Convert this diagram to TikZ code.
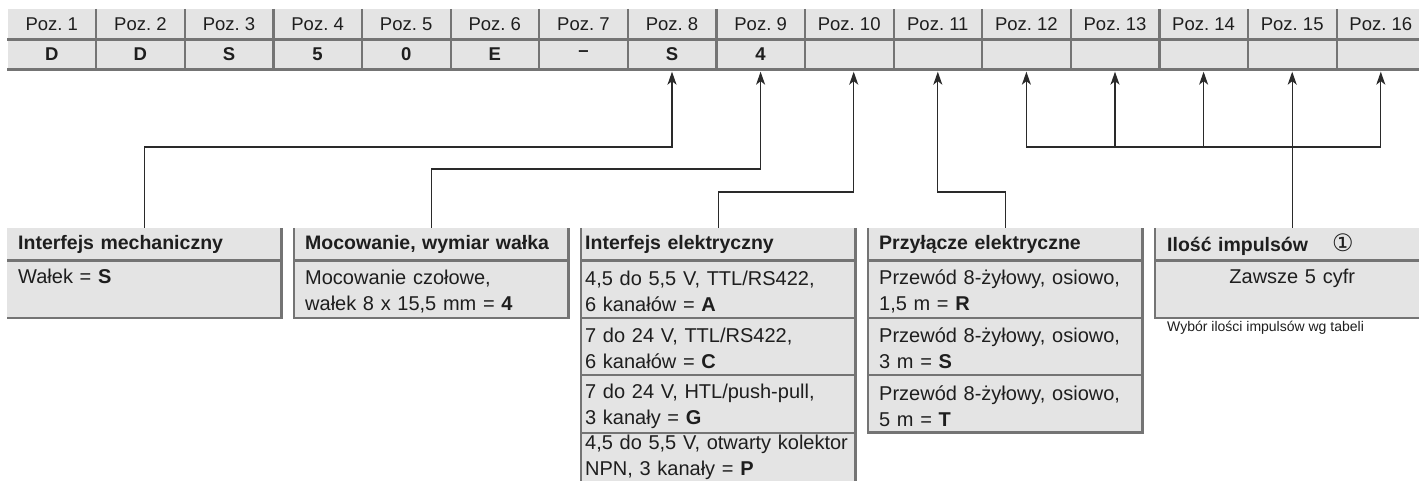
\documentclass[tikz,border=0pt]{standalone}
\usepackage{fontspec}
\setmainfont{Liberation Sans}
\newfontfamily\symfont{DejaVu Sans}
\usetikzlibrary{arrows.meta,calc}
\definecolor{fillg}{HTML}{E4E4E4}
\definecolor{lineg}{HTML}{747474}
\definecolor{conng}{HTML}{2A2A2A}
\definecolor{txt}{HTML}{1E1E1E}
\newcommand\fpoz{\fontsize{18.5}{22}\selectfont}
\newcommand\fval{\fontsize{18.5}{22}\selectfont\bfseries}
\newcommand\fbh{\fontsize{19.5}{23}\selectfont\bfseries}
\newcommand\fbr{\fontsize{20}{26}\selectfont}
\newcommand\fnote{\fontsize{14}{16}\selectfont}
\newcommand\toprule{\rule{0pt}{18.6pt}}
\tikzset{
  poz/.style={minimum width=88.6pt, minimum height=30pt, inner sep=0pt, font=\fpoz, text=txt},
  val/.style={minimum width=88.6pt, minimum height=30pt, inner sep=0pt, font=\fval, text=txt},
  tline/.style={draw=lineg, line width=2.2pt},
  hline/.style={draw=lineg, line width=3pt},
  bhead/.style={fill=fillg, anchor=north west, inner xsep=11pt, inner ysep=0pt, text width=252pt,
     minimum height=32pt, align=left, font=\fbh, text=txt},
  brow/.style={fill=fillg, anchor=north west, inner xsep=11pt, inner ysep=0pt, text width=252pt,
     minimum height=57pt, align=left, font=\fbr, text=txt},
  narrowpad/.style={inner xsep=4pt, text width=266pt},
  bord/.style={draw=lineg, line width=2.6pt},
  sep/.style={draw=lineg, line width=2.2pt},
  conn/.style={draw=conng, line width=1.2pt, -{Stealth[length=13pt,width=9pt,inset=3.5pt]}, shorten >=2.5pt},
  connplain/.style={draw=conng, line width=1.2pt},
  note/.style={anchor=west, inner sep=0pt, font=\fnote, text=txt}
}
\begin{document}
\begin{tikzpicture}[x=1pt,y=-1pt]
\useasboundingbox (0,0) rectangle (1419,481);
\clip (0,0) rectangle (1419,481);

% ---- code table ----
\fill[fillg] (7.5,9) rectangle (1430,69);
\foreach \i in {1,...,16} {
  \node[poz] (p\i) at ({7.5+88.6*(\i-0.5)},24) {Poz.\ \i};
}
\foreach \i/\v in {1/D,2/D,3/S,4/5,5/0,6/E,7/\textendash,8/S,9/4,10/{},11/{},12/{},13/{},14/{},15/{},16/{}} {
  \node[val] (v\i) at ({7.5+88.6*(\i-0.5)},54) {\v};
}
\foreach \i in {1,...,15} {
  \draw[tline] (p\i.north east) -- (v\i.south east);
}
\draw[hline] (p1.south west) -- (p16.south east);
\draw[hline] (v1.south west) -- (v16.south east);

% ---- box 1 ----
\node[bhead] (h1) at (7,228) {Interfejs mechaniczny};
\node[brow] (r11) at (h1.south west) {\toprule Wałek = \textbf{S}\\\phantom{Mg}};
\draw[sep] (h1.south west) -- (h1.south east);
\draw[bord] (r11.south west) -- (r11.south east) -- (h1.north east);

% ---- box 2 ----
\node[bhead] (h2) at (294,228) {Mocowanie, wymiar wałka};
\node[brow] (r21) at (h2.south west) {\toprule Mocowanie czołowe,\\wałek 8 x 15,5 mm = \textbf{4}};
\draw[sep] (h2.south west) -- (h2.south east);
\draw[bord] (h2.north west) -- (r21.south west) -- (r21.south east) -- (h2.north east);

% ---- box 3 ----
\node[bhead,narrowpad] (h3) at (581,228) {Interfejs elektryczny};
\node[brow,narrowpad] (r31) at (h3.south west) {\toprule 4,5 do 5,5 V, TTL/RS422,\\6 kanałów = \textbf{A}};
\node[brow,narrowpad] (r32) at (r31.south west) {\toprule 7 do 24 V, TTL/RS422,\\6 kanałów = \textbf{C}};
\node[brow,narrowpad] (r33) at (r32.south west) {\toprule 7 do 24 V, HTL/push-pull,\\3 kanały = \textbf{G}};
\node[brow,narrowpad,minimum height=50pt] (r34) at (r33.south west) {4,5 do 5,5 V, otwarty kolektor\\NPN, 3 kanały = \textbf{P}};
\draw[sep] (h3.south west) -- (h3.south east);
\draw[sep] (r31.south west) -- (r31.south east);
\draw[sep] (r32.south west) -- (r32.south east);
\draw[sep] (r33.south west) -- (r33.south east);
\draw[bord] (h3.north west) -- ([yshift=-20pt]r34.south west);
\draw[bord] (h3.north east) -- ([yshift=-20pt]r34.south east);
\fill[fillg] (r34.south west) rectangle ([yshift=-20pt]r34.south east);

% ---- box 4 ----
\node[bhead] (h4) at (868,228) {Przyłącze elektryczne};
\node[brow] (r41) at (h4.south west) {\toprule Przewód 8-żyłowy, osiowo,\\1,5 m = \textbf{R}};
\node[brow] (r42) at (r41.south west) {\toprule Przewód 8-żyłowy, osiowo,\\3 m = \textbf{S}};
\node[brow] (r43) at (r42.south west) {\toprule Przewód 8-żyłowy, osiowo,\\5 m = \textbf{T}};
\draw[sep] (h4.south west) -- (h4.south east);
\draw[sep] (r41.south west) -- (r41.south east);
\draw[sep] (r42.south west) -- (r42.south east);
\draw[bord] (h4.north west) -- (r43.south west) -- (r43.south east) -- (h4.north east);

% ---- box 5 ----
\node[bhead,inner xsep=12pt,text width=250pt] (h5) at (1155,228) {Ilość impulsów\hspace{24pt}{\symfont\mdseries\fontsize{24}{24}\selectfont ①}};
\node[brow,align=center] (r51) at (h5.south west) {\toprule Zawsze 5 cyfr\\\phantom{Mg}};
\draw[sep] (h5.south west) -- (h5.south east);
\draw[bord] (h5.north west) -- (r51.south west) -- (r51.south east) -- (h5.north east);
\node[note] (nt) at (1167,328) {Wybór ilości impulsów wg tabeli};

% ---- connectors ----
\coordinate (ya) at (0,147);
\coordinate (yb) at (0,169);
\coordinate (yc) at (0,192);
\draw[conn] (h1.north) |- (v8.south |- ya) -- (v8.south);
\draw[conn] (h2.north) |- (v9.south |- yb) -- (v9.south);
\draw[conn] (h3.north) |- ([xshift=4.5pt]v10.south |- yc) -- ([xshift=4.5pt]v10.south);
\draw[conn] (h4.north) |- (v11.south |- yc) -- (v11.south);
\draw[connplain] (h5.north) -- (h5.north |- ya);
\draw[connplain] (v12.south |- ya) -- (v16.south |- ya);
\foreach \i in {12,...,16} {
  \draw[conn] (v\i.south |- ya) -- (v\i.south);
}
\end{tikzpicture}
\end{document}
